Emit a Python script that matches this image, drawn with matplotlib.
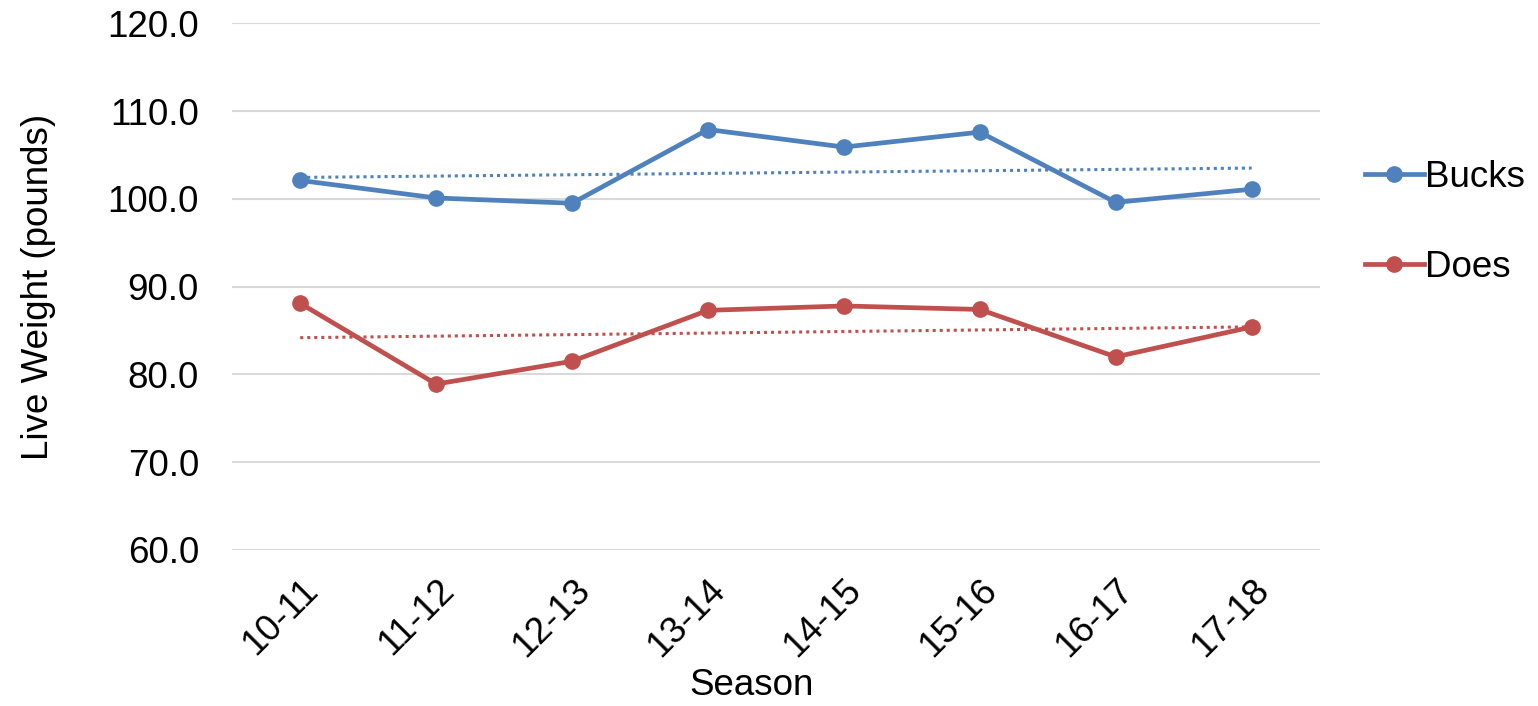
import numpy as np
import matplotlib
matplotlib.use("Agg")
import matplotlib.pyplot as plt

plt.rcParams['font.family'] = ['Liberation Sans', 'DejaVu Sans']

# data
seasons = ['10-11', '11-12', '12-13', '13-14', '14-15', '15-16', '16-17', '17-18']
bucks = [102.1, 100.1, 99.5, 107.9, 105.9, 107.6, 99.6, 101.1]
does = [88.1, 78.9, 81.5, 87.3, 87.8, 87.4, 82.0, 85.4]

blue = '#4F81BD'
red = '#C0504D'

fig = plt.figure(figsize=(15.38, 7.06), dpi=100)
ax = fig.add_axes([0.151, 0.221, 0.707, 0.746])

x = np.arange(len(seasons))
ax.plot(x, bucks, color=blue, lw=3.4, marker='o', ms=11, label='Bucks', zorder=3)
ax.plot(x, does, color=red, lw=3.4, marker='o', ms=11, label='Does', zorder=3)

# linear trendlines
for series, col in [(bucks, blue), (does, red)]:
    m, b = np.polyfit(x, series, 1)
    ax.plot(x, m * x + b, color=col, lw=2.2, ls=(0, (1, 1.3)), zorder=2)

ax.set_xlim(-0.5, len(seasons) - 0.5)
ax.set_ylim(60, 120)
ax.set_yticks(np.arange(60, 121, 10))
ax.set_yticklabels([f'{v:.1f}' for v in np.arange(60, 121, 10)])
ax.set_xticks(x)
ax.set_xticklabels(seasons, rotation=45, ha='right', rotation_mode='anchor')
ax.tick_params(axis='both', labelsize=26.5, length=0)
ax.tick_params(axis='y', pad=24)
ax.tick_params(axis='x', pad=16)
ax.grid(axis='y', color='#D9D9D9', lw=1.5)
ax.set_axisbelow(True)
for s in ax.spines.values():
    s.set_visible(False)

ax.set_ylabel('Live Weight (pounds)', fontsize=26.5, labelpad=37)
ax.set_xlabel('Season', fontsize=26.5)
ax.xaxis.set_label_coords(0.478, -0.225)

ax.legend(loc='center left', bbox_to_anchor=(1.011, 0.622), frameon=False,
          fontsize=26.5, handlelength=1.6, handletextpad=0.05, labelspacing=1.5)

fig.savefig('out.png', dpi=100)
